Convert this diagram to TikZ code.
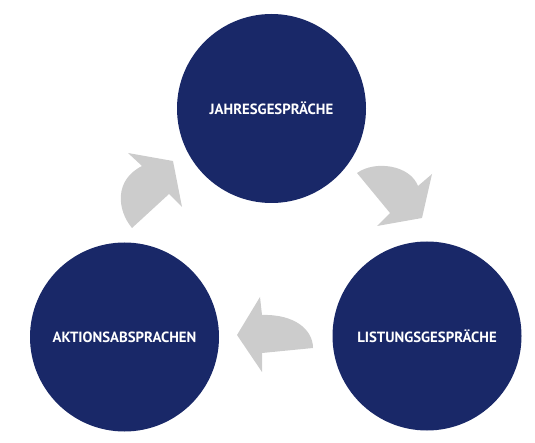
\documentclass[tikz,border=0pt]{standalone}
\usepackage{fontspec}
\setmainfont{PT Sans}
\definecolor{navy}{RGB}{25,40,104}
\definecolor{arrowgray}{RGB}{204,204,204}
\begin{document}
\begin{tikzpicture}[x=1pt,y=-1pt,
  phase/.style={circle,fill=navy,minimum size=189pt,inner sep=0pt,text=white,
    font=\bfseries\fontsize{14.8}{16}\selectfont},
  cyclearrow/.style={fill=arrowgray,draw=none}]
\useasboundingbox (0,0) rectangle (535,443);
\node[phase] (jg) at (271.5,108.5) {JAHRESGESPRÄCHE};
\node[phase] (ak) at (124.5,337) {AKTIONSABSPRACHEN};
\node[phase] (lg) at (427,336) {LISTUNGSGESPRÄCHE};
% arrow: Aktionsabsprachen -> Jahresgespraeche
\fill[cyclearrow] (132,228) .. controls (117,210) and (114,180) .. (142,166)
  -- (128,153) -- (173,161) -- (182,207) -- (169,194) -- cycle;
% arrow: Jahresgespraeche -> Listungsgespraeche
\fill[cyclearrow] (357,173) .. controls (375,160) and (410,165) .. (418,186)
  -- (432,174) -- (422,218) -- (377,226) -- (390,213) -- cycle;
% arrow: Listungsgespraeche -> Aktionsabsprachen
\fill[cyclearrow] (313,348) .. controls (313,330) and (295,314) .. (262,315)
  -- (260,297) -- (237,335) -- (262,372) -- (262,353) -- cycle;
\end{tikzpicture}
\end{document}
